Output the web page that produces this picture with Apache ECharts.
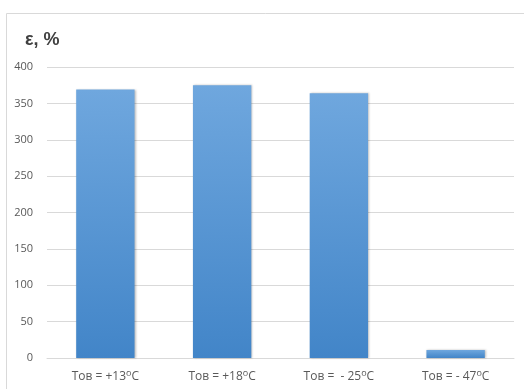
<!DOCTYPE html>
<html>
<head>
<meta charset="utf-8">
<script src="https://cdn.jsdelivr.net/npm/echarts@6/dist/echarts.min.js"></script>
<style>
  html, body { margin: 0; padding: 0; background: #ffffff; }
  #chart { width: 524px; height: 389px; }
</style>
</head>
<body>
<div id="chart"></div>
<script>
// Temperature cases (prefix before the degree mark) and measured ε values
const categoryPrefixes = ['Тов = +13', 'Тов = +18', 'Тов =  - 25', 'Тов = - 47'];
const epsilonValues = [369, 375, 364, 11];
const yTicks = [0, 50, 100, 150, 200, 250, 300, 350, 400];

const chart = echarts.init(document.getElementById('chart'));

const labelFont = '"Open Sans", "Liberation Sans", "DejaVu Sans", sans-serif';

chart.setOption({
  animation: false,
  graphic: [
    {
      type: 'rect',
      shape: { x: 6.5, y: 13.5, width: 540, height: 400 },
      style: { fill: 'none', stroke: '#d9d9d9', lineWidth: 1 },
      silent: true
    },
    {
      type: 'text',
      left: 25,
      top: 31,
      style: {
        text: 'ε, %',
        font: 'bold 18px "Liberation Sans", Arial, sans-serif',
        fill: '#404040'
      }
    }
  ],
  grid: { left: 47, right: 10, top: 67, bottom: 31, containLabel: false },
  xAxis: {
    type: 'category',
    data: categoryPrefixes,
    axisLine: { show: true, lineStyle: { color: '#d9d9d9' } },
    axisTick: { show: false },
    axisLabel: {
      interval: 0,
      margin: 11,
      formatter: function (v) { return '{a|' + v + '}{s|o}{a|C}'; },
      rich: {
        a: { fontSize: 12, color: '#595959', fontFamily: labelFont },
        s: { fontSize: 9, color: '#595959', fontFamily: labelFont, padding: [0, 0, 7, 0] }
      }
    }
  },
  yAxis: {
    type: 'value',
    min: yTicks[0],
    max: yTicks[yTicks.length - 1],
    interval: yTicks[1] - yTicks[0],
    axisLine: { show: false },
    axisTick: { show: false },
    axisLabel: {
      color: '#595959',
      fontSize: 11,
      fontFamily: labelFont,
      margin: 14
    },
    splitLine: { lineStyle: { color: '#d9d9d9', width: 1 } }
  },
  series: [{
    type: 'bar',
    data: epsilonValues,
    barWidth: '50%',
    itemStyle: {
      color: new echarts.graphic.LinearGradient(0, 0, 0, 1, [
        { offset: 0, color: '#6fa7de' },
        { offset: 1, color: '#4285c8' }
      ]),
      shadowColor: 'rgba(0,0,0,0.25)',
      shadowBlur: 2,
      shadowOffsetX: 1
    }
  }]
});
</script>
</body>
</html>
